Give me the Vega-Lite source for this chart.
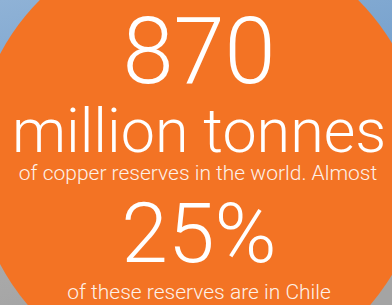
{
  "$schema": "https://vega.github.io/schema/vega-lite/v6.json",
  "width": 392,
  "height": 305,
  "padding": 0,
  "autosize": {"type": "fit", "contains": "padding"},
  "config": {
    "view": {
      "stroke": null,
      "fill": {
        "gradient": "linear",
        "x1": 0, "y1": 0, "x2": 0.3, "y2": 1,
        "stops": [
          {"offset": 0, "color": "#8fb2d6"},
          {"offset": 0.45, "color": "#76a1cd"},
          {"offset": 0.8, "color": "#a9a9a9"},
          {"offset": 1, "color": "#a4a4a4"}
        ]
      }
    },
    "axis": {"disable": true}
  },
  "datasets": {
    "circle": [{"cx": 199, "cy": 159}],
    "lines": [
      {"part": "a", "label": "870", "cx": 199, "base": 83},
      {"part": "b", "label": "million tonnes", "cx": 199, "base": 152},
      {"part": "c", "label": "of copper reserves in the world. Almost", "cx": 198, "base": 180},
      {"part": "d", "label": "25%", "cx": 199, "base": 262},
      {"part": "c", "label": "of these reserves are in Chile", "cx": 199, "base": 299}
    ]
  },
  "encoding": {
    "x": {"field": "cx", "type": "quantitative", "scale": {"domain": [0, 392]}, "axis": null},
    "y": {"field": "base", "type": "quantitative", "scale": {"domain": [0, 305], "reverse": true}, "axis": null}
  },
  "layer": [
    {
      "data": {"name": "circle"},
      "mark": {"type": "point", "shape": "circle", "filled": true, "size": 202500, "color": "#f37324", "opacity": 1, "strokeWidth": 0, "clip": true},
      "encoding": {
        "x": {"field": "cx", "type": "quantitative"},
        "y": {"field": "cy", "type": "quantitative"}
      }
    },
    {
      "data": {"name": "lines"},
      "transform": [{"filter": "datum.part === 'a'"}],
      "mark": {"type": "text", "font": "Roboto", "fontWeight": 300, "fontSize": 92, "color": "white", "align": "center", "baseline": "alphabetic"},
      "encoding": {"text": {"field": "label"}}
    },
    {
      "data": {"name": "lines"},
      "transform": [{"filter": "datum.part === 'b'"}],
      "mark": {"type": "text", "font": "Roboto", "fontWeight": 300, "fontSize": 61, "color": "white", "align": "center", "baseline": "alphabetic"},
      "encoding": {"text": {"field": "label"}}
    },
    {
      "data": {"name": "lines"},
      "transform": [{"filter": "datum.part === 'c'"}],
      "mark": {"type": "text", "font": "Roboto", "fontWeight": 300, "fontSize": 21, "color": "white", "opacity": 0.9, "align": "center", "baseline": "alphabetic"},
      "encoding": {"text": {"field": "label"}}
    },
    {
      "data": {"name": "lines"},
      "transform": [{"filter": "datum.part === 'd'"}],
      "mark": {"type": "text", "font": "Roboto", "fontWeight": 300, "fontSize": 84, "color": "white", "align": "center", "baseline": "alphabetic"},
      "encoding": {"text": {"field": "label"}}
    }
  ]
}
